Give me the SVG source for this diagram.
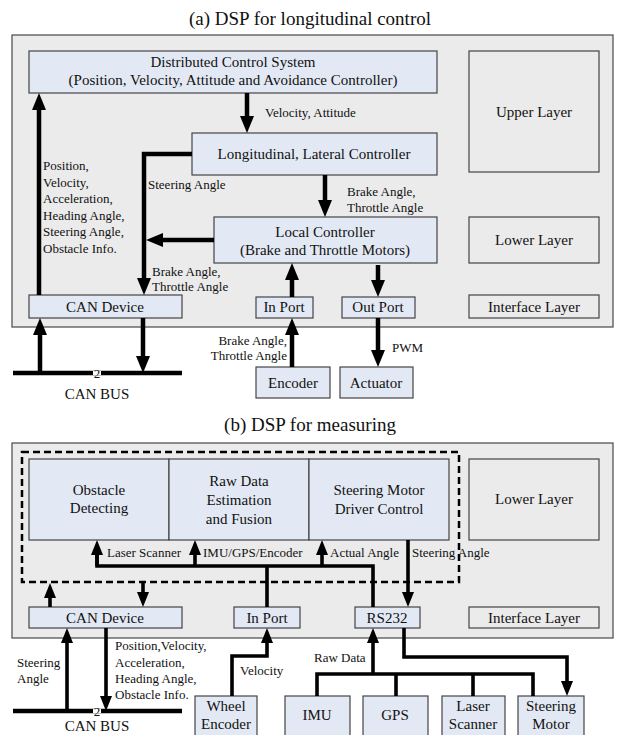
<svg xmlns="http://www.w3.org/2000/svg" width="617" height="735" viewBox="0 0 617 735">
<style>
.dg-t{font-size:19px;fill:#111}
.dg-n{font-size:15px;fill:#111}
.dg-l{font-size:13px;fill:#111}
.dg-m{text-anchor:middle}
.dg-e{text-anchor:end}
.panel{fill:#ebebeb;stroke:#555;stroke-width:1.3}
.node{fill:#e3e9f4;stroke:#444;stroke-width:1.2}
.layer{fill:#ebebeb;stroke:#444;stroke-width:1.2}
.ca{fill:none;stroke:#000;stroke-width:4.5}
.cb{fill:none;stroke:#000;stroke-width:3.6}
.bus{fill:none;stroke:#000;stroke-width:4.5}
.dash{fill:none;stroke:#000;stroke-width:2.5;stroke-dasharray:7 4}
</style>
<defs>
<marker id="A" viewBox="0 -7 17 14" refX="0" refY="0" markerWidth="17" markerHeight="14" markerUnits="userSpaceOnUse" orient="auto"><path d="M0,-7 L17,0 L0,7 z" fill="#000"/></marker>
<marker id="B" viewBox="0 -6 15 12" refX="0" refY="0" markerWidth="15" markerHeight="12" markerUnits="userSpaceOnUse" orient="auto"><path d="M0,-6 L15,0 L0,6 z" fill="#000"/></marker>
</defs>

<text style="font-family:'Liberation Serif',serif !important" class="dg-t dg-m" x="310" y="25">(a) DSP for longitudinal control</text>
<rect class="panel" x="12" y="35" width="601" height="292"/>

<g id="dcs"><rect class="node" x="29" y="51" width="408" height="42"/>
<text style="font-family:'Liberation Serif',serif !important" class="dg-n dg-m" x="233" y="67">Distributed Control System</text>
<text style="font-family:'Liberation Serif',serif !important" class="dg-n dg-m" x="233" y="85">(Position, Velocity, Attitude and Avoidance Controller)</text></g>
<g id="upper"><rect class="layer" x="469" y="51" width="130" height="121"/><text style="font-family:'Liberation Serif',serif !important" class="dg-n dg-m" x="534" y="117">Upper Layer</text></g>
<g id="longlat"><rect class="node" x="192" y="133" width="245" height="42"/><text style="font-family:'Liberation Serif',serif !important" class="dg-n dg-m" x="314" y="159">Longitudinal, Lateral Controller</text></g>
<g id="local"><rect class="node" x="214" y="217" width="223" height="46"/>
<text style="font-family:'Liberation Serif',serif !important" class="dg-n dg-m" x="325" y="237">Local Controller</text>
<text style="font-family:'Liberation Serif',serif !important" class="dg-n dg-m" x="325" y="255">(Brake and Throttle Motors)</text></g>
<g id="lowerA"><rect class="layer" x="469" y="217" width="130" height="46"/><text style="font-family:'Liberation Serif',serif !important" class="dg-n dg-m" x="534" y="245">Lower Layer</text></g>
<g id="canA"><rect class="node" x="29" y="295" width="153" height="23"/><text style="font-family:'Liberation Serif',serif !important" class="dg-n dg-m" x="105" y="312">CAN Device</text></g>
<g id="inportA"><rect class="node" x="256" y="297" width="57" height="21"/><text style="font-family:'Liberation Serif',serif !important" class="dg-n dg-m" x="284" y="312">In Port</text></g>
<g id="outportA"><rect class="node" x="342" y="297" width="73" height="21"/><text style="font-family:'Liberation Serif',serif !important" class="dg-n dg-m" x="378" y="312">Out Port</text></g>
<g id="ifaceA"><rect class="layer" x="469" y="295" width="130" height="23"/><text style="font-family:'Liberation Serif',serif !important" class="dg-n dg-m" x="534" y="312">Interface Layer</text></g>
<g id="encoder"><rect class="node" x="256" y="367" width="74" height="31"/><text style="font-family:'Liberation Serif',serif !important" class="dg-n dg-m" x="293" y="388">Encoder</text></g>
<g id="actuator"><rect class="node" x="340" y="367" width="73" height="31"/><text style="font-family:'Liberation Serif',serif !important" class="dg-n dg-m" x="376" y="388">Actuator</text></g>
<g id="canbusA"><path class="bus" d="M13,373 H182"/><rect x="93" y="371" width="8" height="4" fill="#fff"/><text style="font-family:'Liberation Serif',serif !important" class="dg-l dg-m" x="97" y="378">2</text><text style="font-family:'Liberation Serif',serif !important" class="dg-n dg-m" x="97" y="399">CAN BUS</text></g>

<g id="connectorsA">
<path class="ca" d="M247,93 V116" marker-end="url(#A)"/>
<path class="ca" d="M192,154 H144 V278" marker-end="url(#A)"/>
<path class="ca" d="M39,295 V110" marker-end="url(#A)"/>
<path class="ca" d="M325,175 V200" marker-end="url(#A)"/>
<path class="ca" d="M214,240 H163" marker-end="url(#A)"/>
<path class="ca" d="M292,297 V280" marker-end="url(#A)"/>
<path class="ca" d="M378,265 V280" marker-end="url(#A)"/>
<path class="ca" d="M292,367 V335" marker-end="url(#A)"/>
<path class="ca" d="M378,318 V350" marker-end="url(#A)"/>
<path class="ca" d="M40,373 V335" marker-end="url(#A)"/>
<path class="ca" d="M143,318 V356" marker-end="url(#A)"/>
</g>
<g id="labelsA">
<text style="font-family:'Liberation Serif',serif !important" class="dg-l" x="265" y="117">Velocity, Attitude</text>
<text style="font-family:'Liberation Serif',serif !important" class="dg-l" x="148" y="189">Steering Angle</text>
<text style="font-family:'Liberation Serif',serif !important" class="dg-l" x="43" y="170">Position,</text>
<text style="font-family:'Liberation Serif',serif !important" class="dg-l" x="43" y="186.5">Velocity,</text>
<text style="font-family:'Liberation Serif',serif !important" class="dg-l" x="43" y="203">Acceleration,</text>
<text style="font-family:'Liberation Serif',serif !important" class="dg-l" x="43" y="219.5">Heading Angle,</text>
<text style="font-family:'Liberation Serif',serif !important" class="dg-l" x="43" y="236">Steering Angle,</text>
<text style="font-family:'Liberation Serif',serif !important" class="dg-l" x="43" y="252.5">Obstacle Info.</text>
<text style="font-family:'Liberation Serif',serif !important" class="dg-l" x="347" y="196">Brake Angle,</text>
<text style="font-family:'Liberation Serif',serif !important" class="dg-l" x="347" y="212">Throttle Angle</text>
<text style="font-family:'Liberation Serif',serif !important" class="dg-l" x="152" y="276">Brake Angle,</text>
<text style="font-family:'Liberation Serif',serif !important" class="dg-l" x="152" y="291">Throttle Angle</text>
<text style="font-family:'Liberation Serif',serif !important" class="dg-l dg-e" x="287" y="345">Brake Angle,</text>
<text style="font-family:'Liberation Serif',serif !important" class="dg-l dg-e" x="287" y="360">Throttle Angle</text>
<text style="font-family:'Liberation Serif',serif !important" class="dg-l" x="392" y="352">PWM</text>
</g>

<text style="font-family:'Liberation Serif',serif !important" class="dg-t dg-m" x="310" y="431">(b) DSP for measuring</text>
<rect class="panel" x="12" y="443" width="601" height="195"/>
<rect class="dash" x="22" y="452" width="437" height="130"/>

<g id="obstacle"><rect class="node" x="29" y="459" width="140" height="81"/>
<text style="font-family:'Liberation Serif',serif !important" class="dg-n dg-m" x="99" y="495">Obstacle</text><text style="font-family:'Liberation Serif',serif !important" class="dg-n dg-m" x="99" y="513">Detecting</text></g>
<g id="rawdata"><rect class="node" x="169" y="459" width="140" height="81"/>
<text style="font-family:'Liberation Serif',serif !important" class="dg-n dg-m" x="239" y="486">Raw Data</text><text style="font-family:'Liberation Serif',serif !important" class="dg-n dg-m" x="239" y="505">Estimation</text><text style="font-family:'Liberation Serif',serif !important" class="dg-n dg-m" x="239" y="524">and Fusion</text></g>
<g id="steerctl"><rect class="node" x="309" y="459" width="140" height="81"/>
<text style="font-family:'Liberation Serif',serif !important" class="dg-n dg-m" x="379" y="495">Steering Motor</text><text style="font-family:'Liberation Serif',serif !important" class="dg-n dg-m" x="379" y="514">Driver Control</text></g>
<g id="lowerB"><rect class="layer" x="469" y="459" width="130" height="81"/><text style="font-family:'Liberation Serif',serif !important" class="dg-n dg-m" x="534" y="504">Lower Layer</text></g>
<g id="canB"><rect class="node" x="29" y="607" width="153" height="21"/><text style="font-family:'Liberation Serif',serif !important" class="dg-n dg-m" x="105" y="623">CAN Device</text></g>
<g id="inportB"><rect class="node" x="234" y="607" width="66" height="21"/><text style="font-family:'Liberation Serif',serif !important" class="dg-n dg-m" x="267" y="623">In Port</text></g>
<g id="rs232"><rect class="node" x="355" y="607" width="65" height="21"/><text style="font-family:'Liberation Serif',serif !important" class="dg-n dg-m" x="387" y="623">RS232</text></g>
<g id="ifaceB"><rect class="layer" x="469" y="607" width="130" height="21"/><text style="font-family:'Liberation Serif',serif !important" class="dg-n dg-m" x="534" y="623">Interface Layer</text></g>
<g id="wheelenc"><rect class="node" x="195" y="696" width="62" height="40"/><text style="font-family:'Liberation Serif',serif !important" class="dg-n dg-m" x="226" y="711">Wheel</text><text style="font-family:'Liberation Serif',serif !important" class="dg-n dg-m" x="226" y="729">Encoder</text></g>
<g id="imu"><rect class="node" x="285" y="696" width="65" height="40"/><text style="font-family:'Liberation Serif',serif !important" class="dg-n dg-m" x="317" y="720">IMU</text></g>
<g id="gps"><rect class="node" x="363" y="696" width="65" height="40"/><text style="font-family:'Liberation Serif',serif !important" class="dg-n dg-m" x="395" y="720">GPS</text></g>
<g id="laser"><rect class="node" x="442" y="696" width="63" height="40"/><text style="font-family:'Liberation Serif',serif !important" class="dg-n dg-m" x="473" y="711">Laser</text><text style="font-family:'Liberation Serif',serif !important" class="dg-n dg-m" x="473" y="729">Scanner</text></g>
<g id="steermotor"><rect class="node" x="518" y="696" width="66" height="40"/><text style="font-family:'Liberation Serif',serif !important" class="dg-n dg-m" x="551" y="711">Steering</text><text style="font-family:'Liberation Serif',serif !important" class="dg-n dg-m" x="551" y="729">Motor</text></g>
<g id="canbusB"><path class="bus" d="M13,711 H182"/><rect x="93" y="709" width="8" height="4" fill="#fff"/><text style="font-family:'Liberation Serif',serif !important" class="dg-l dg-m" x="97" y="716">2</text><text style="font-family:'Liberation Serif',serif !important" class="dg-n dg-m" x="97" y="731">CAN BUS</text></g>

<g id="connectorsB">
<path class="cb" d="M97,555 V566 H373 V607"/>
<path class="cb" d="M97,566 V555" marker-end="url(#B)"/>
<path class="cb" d="M195,566 V555" marker-end="url(#B)"/>
<path class="cb" d="M322,566 V555" marker-end="url(#B)"/>
<path class="cb" d="M267,566 V607"/>
<path class="cb" d="M408,540 V592" marker-end="url(#B)"/>
<path class="cb" d="M50,607 V598" marker-end="url(#B)"/>
<path class="cb" d="M143,582 V592" marker-end="url(#B)"/>
<path class="cb" d="M67,711 V643" marker-end="url(#B)"/>
<path class="cb" d="M106,628 V696" marker-end="url(#B)"/>
<path class="cb" d="M232,696 V656 H267 V643" marker-end="url(#B)"/>
<path class="cb" d="M373,674 V643" marker-end="url(#B)"/>
<path class="cb" d="M317,696 V674 H533 V696 M396,674 V696 M473,674 V696"/>
<path class="cb" d="M404,628 V657 H567 V681" marker-end="url(#B)"/>
</g>
<g id="labelsB">
<text style="font-family:'Liberation Serif',serif !important" class="dg-l" x="107" y="557">Laser Scanner</text>
<text style="font-family:'Liberation Serif',serif !important" class="dg-l" x="203" y="557">IMU/GPS/Encoder</text>
<text style="font-family:'Liberation Serif',serif !important" class="dg-l" x="330" y="557">Actual Angle</text>
<text style="font-family:'Liberation Serif',serif !important" class="dg-l" x="412" y="557">Steering Angle</text>
<text style="font-family:'Liberation Serif',serif !important" class="dg-l" x="17" y="667">Steering</text>
<text style="font-family:'Liberation Serif',serif !important" class="dg-l" x="17" y="683">Angle</text>
<text style="font-family:'Liberation Serif',serif !important" class="dg-l" x="115" y="650">Position,Velocity,</text>
<text style="font-family:'Liberation Serif',serif !important" class="dg-l" x="115" y="667">Acceleration,</text>
<text style="font-family:'Liberation Serif',serif !important" class="dg-l" x="115" y="683">Heading Angle,</text>
<text style="font-family:'Liberation Serif',serif !important" class="dg-l" x="115" y="699">Obstacle Info.</text>
<text style="font-family:'Liberation Serif',serif !important" class="dg-l" x="240" y="675">Velocity</text>
<text style="font-family:'Liberation Serif',serif !important" class="dg-l" x="314" y="662">Raw Data</text>
</g>
</svg>
